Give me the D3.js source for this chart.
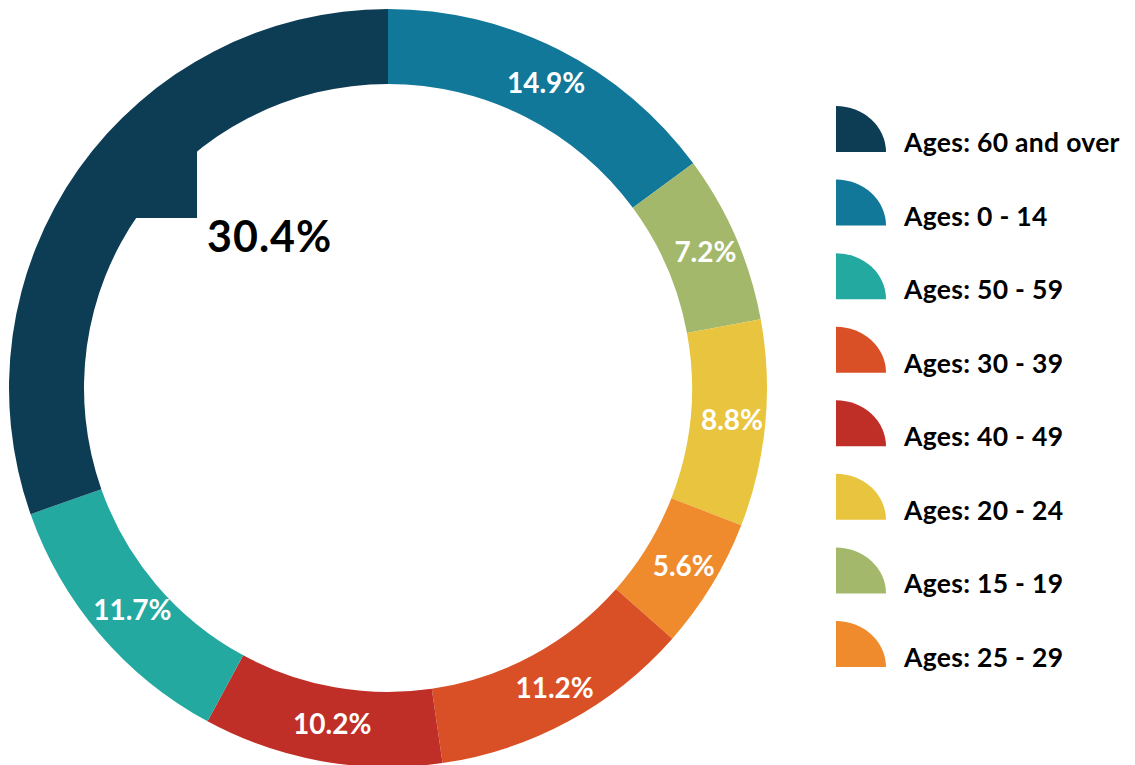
<!DOCTYPE html>
<html>
<head>
<meta charset="utf-8">
<script src="https://cdn.jsdelivr.net/npm/d3@7"></script>
<style>
    body { margin: 0; background: #fff; }
    svg { display: block; }
    text { font-family: Lato, "Open Sans", sans-serif; font-weight: 700; }
</style>
</head>
<body>
<svg id="chart" width="1135" height="765"></svg>
<script>
// slices, clockwise from 12 o'clock
var groups = ["Ages: 0 - 14", "Ages: 15 - 19", "Ages: 20 - 24", "Ages: 25 - 29",
    "Ages: 30 - 39", "Ages: 40 - 49", "Ages: 50 - 59", "Ages: 60 and over"];
var shares = [14.9, 7.2, 8.8, 5.6, 11.2, 10.2, 11.7, 30.4];
var colors = ["#117899", "#a4b86c", "#e9c53f", "#ef8b2c", "#d94f26", "#c02f27", "#23a9a0", "#0d3c55"];
// legend order as in the picture
var legendOrder = ["Ages: 60 and over", "Ages: 0 - 14", "Ages: 50 - 59", "Ages: 30 - 39",
    "Ages: 40 - 49", "Ages: 20 - 24", "Ages: 15 - 19", "Ages: 25 - 29"];

var svg = d3.select("#chart"),
    cx = 388,
    cy = 388,
    outerR = 379,
    innerR = 304;

var data = groups.map(function(g, i) {
    return { group: g, value: shares[i] };
});

var color = d3.scaleOrdinal().domain(groups).range(colors);

var pie = d3.pie()
    .sort(null)
    .value(function(d) { return d.value; });

var arc = d3.arc()
    .innerRadius(innerR)
    .outerRadius(outerR);

var g = svg.append("g")
    .attr("transform", "translate(" + cx + "," + cy + ")");

// the big slice spills into the hole as a square notch
svg.append("clipPath")
    .attr("id", "hole")
    .append("circle")
    .attr("r", innerR + 1);

var arcs = pie(data);

g.append("rect")
    .attr("clip-path", "url(#hole)")
    .attr("x", -innerR - 2)
    .attr("y", -innerR - 2)
    .attr("width", innerR + 2 - 191)
    .attr("height", innerR + 2 - 170)
    .style("fill", color(groups[7]));

g.selectAll(".slice")
    .data(arcs)
    .enter().append("path")
    .attr("class", "slice")
    .attr("d", arc)
    .style("fill", function(d) { return color(d.data.group); });

// white labels on the ring, except the big one
g.selectAll(".lbl")
    .data(arcs.filter(function(d) { return d.data.value < 30; }))
    .enter().append("text")
    .attr("class", "lbl")
    .attr("transform", function(d) {
        var c = arc.centroid(d);
        return "translate(" + (c[0] + 4) + "," + c[1] + ")";
    })
    .attr("text-anchor", "middle")
    .attr("dy", "0.36em")
    .style("fill", "#fff")
    .style("font-size", "28px")
    .text(function(d) { return d.data.value.toFixed(1) + "%"; });

g.append("text")
    .attr("x", -181)
    .attr("y", -136)
    .style("fill", "#000")
    .style("font-size", "43px")
    .style("letter-spacing", "1px")
    .text(shares[7].toFixed(1) + "%");

// legend
var ly = d3.scalePoint()
    .domain(legendOrder)
    .range([106, 621]);

var legend = svg.append("g")
    .attr("transform", "translate(836,0)");

var item = legend.selectAll(".item")
    .data(legendOrder)
    .enter().append("g")
    .attr("class", "item")
    .attr("transform", function(d) { return "translate(0," + ly(d) + ")"; });

item.append("path")
    .attr("d", "M0,46 L0,0 A50,46 0 0 1 50,46 Z")
    .style("fill", function(d) { return color(d); });

item.append("text")
    .attr("x", 68)
    .attr("y", 46)
    .style("fill", "#000")
    .style("font-size", "26.5px")
    .style("letter-spacing", "0.3px")
    .text(function(d) { return d; });
</script>
</body>
</html>
